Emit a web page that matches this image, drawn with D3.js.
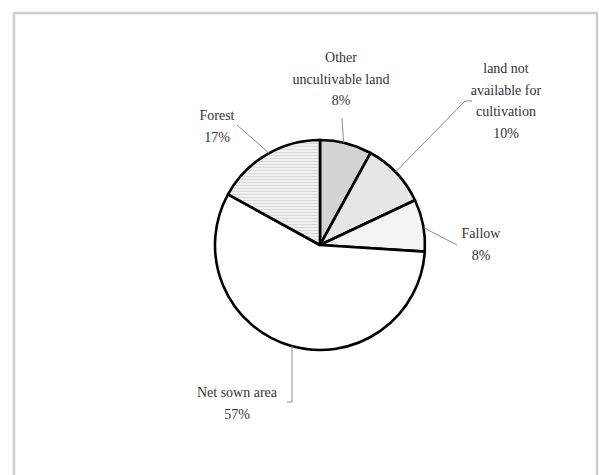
<!DOCTYPE html>
<html>
<head>
<meta charset="utf-8">
<script src="https://cdn.jsdelivr.net/npm/d3@7/dist/d3.min.js"></script>
<style>
  html, body { margin: 0; padding: 0; background: #fff; }
  svg { display: block; }
</style>
</head>
<body>
<svg id="chart" width="599" height="475"></svg>
<script>
// Land use shares (%), listed clockwise from 12 o'clock
const categories = ["Other uncultivable land", "land not available for cultivation", "Fallow", "Net sown area", "Forest"];
const shares = [8, 10, 8, 57, 17];
const labelLines = [
  ["Other", "uncultivable land", "8%"],
  ["land not", "available for", "cultivation", "10%"],
  ["Fallow", "8%"],
  ["Net sown area", "57%"],
  ["Forest", "17%"]
];
const fills = ["#d3d3d3", "#e6e6e6", "#f3f3f3", "#ffffff", "url(#hlines)"];

const svg = d3.select("#chart");
const W = 599, H = 475;
const cx = 320, cy = 245, R = 105;

// horizontal line pattern for the forest slice
const defs = svg.append("defs");
const pat = defs.append("pattern")
  .attr("id", "hlines").attr("patternUnits", "userSpaceOnUse")
  .attr("width", 6).attr("height", 3);
pat.append("rect").attr("width", 6).attr("height", 3).attr("fill", "#f1f1f1");
pat.append("rect").attr("y", 0).attr("width", 6).attr("height", 1).attr("fill", "#d9d9d9");

// outer frame (open at the bottom)
svg.append("path")
  .attr("d", `M14,${H} L14,13 L597,13 L597,${H}`)
  .attr("fill", "none").attr("stroke", "#cfcfcf").attr("stroke-width", 2.5);

const pie = d3.pie().sort(null).value(d => d);
const arcs = pie(shares);
const arc = d3.arc().innerRadius(0).outerRadius(R);

const g = svg.append("g").attr("transform", `translate(${cx},${cy})`);
g.selectAll("path.slice")
  .data(arcs)
  .join("path")
  .attr("class", "slice")
  .attr("d", arc)
  .attr("fill", (d, i) => fills[i])
  .attr("stroke", "#000")
  .attr("stroke-width", 2.6)
  .attr("stroke-linejoin", "round");

// label anchors (text centre x, first line baseline y)
const labelPos = [
  { x: 341, y: 62 },
  { x: 506, y: 73 },
  { x: 481, y: 238 },
  { x: 237, y: 397 },
  { x: 217, y: 120 }
];
const lineH = 21.5;

// leader lines: label-side points, then the point on the rim at the given angle (degrees)
const leaderStarts = [
  [[342, 118]],
  [[472, 101], [465, 101]],
  [[457, 245]],
  [[287, 402], [292, 402]],
  [[237, 125]]
];
const leaderAngles = [13, 46, 80.5, null, 331];
arcs.forEach((a, i) => {
  let pts;
  if (i === 3) {
    // vertical drop from the rim at x = 292
    const x = 292;
    const ey = cy + Math.sqrt(R * R - (x - cx) * (x - cx));
    pts = leaderStarts[i].concat([[x, ey]]);
  } else {
    const ang = leaderAngles[i] * Math.PI / 180;
    const ex = cx + Math.sin(ang) * R;
    const ey = cy - Math.cos(ang) * R;
    pts = leaderStarts[i].concat([[ex, ey]]);
  }
  svg.append("path")
    .attr("d", d3.line()(pts))
    .attr("fill", "none")
    .attr("stroke", "#8a8a8a")
    .attr("stroke-width", 1);
});

// labels
labelLines.forEach((lines, i) => {
  const t = svg.append("text")
    .attr("text-anchor", "middle")
    .attr("font-family", "'Liberation Serif', 'DejaVu Serif', serif")
    .attr("font-size", 14)
    .attr("fill", "#333");
  lines.forEach((s, k) => {
    t.append("tspan")
      .attr("x", labelPos[i].x)
      .attr("y", labelPos[i].y + k * lineH)
      .text(s);
  });
});
</script>
</body>
</html>
